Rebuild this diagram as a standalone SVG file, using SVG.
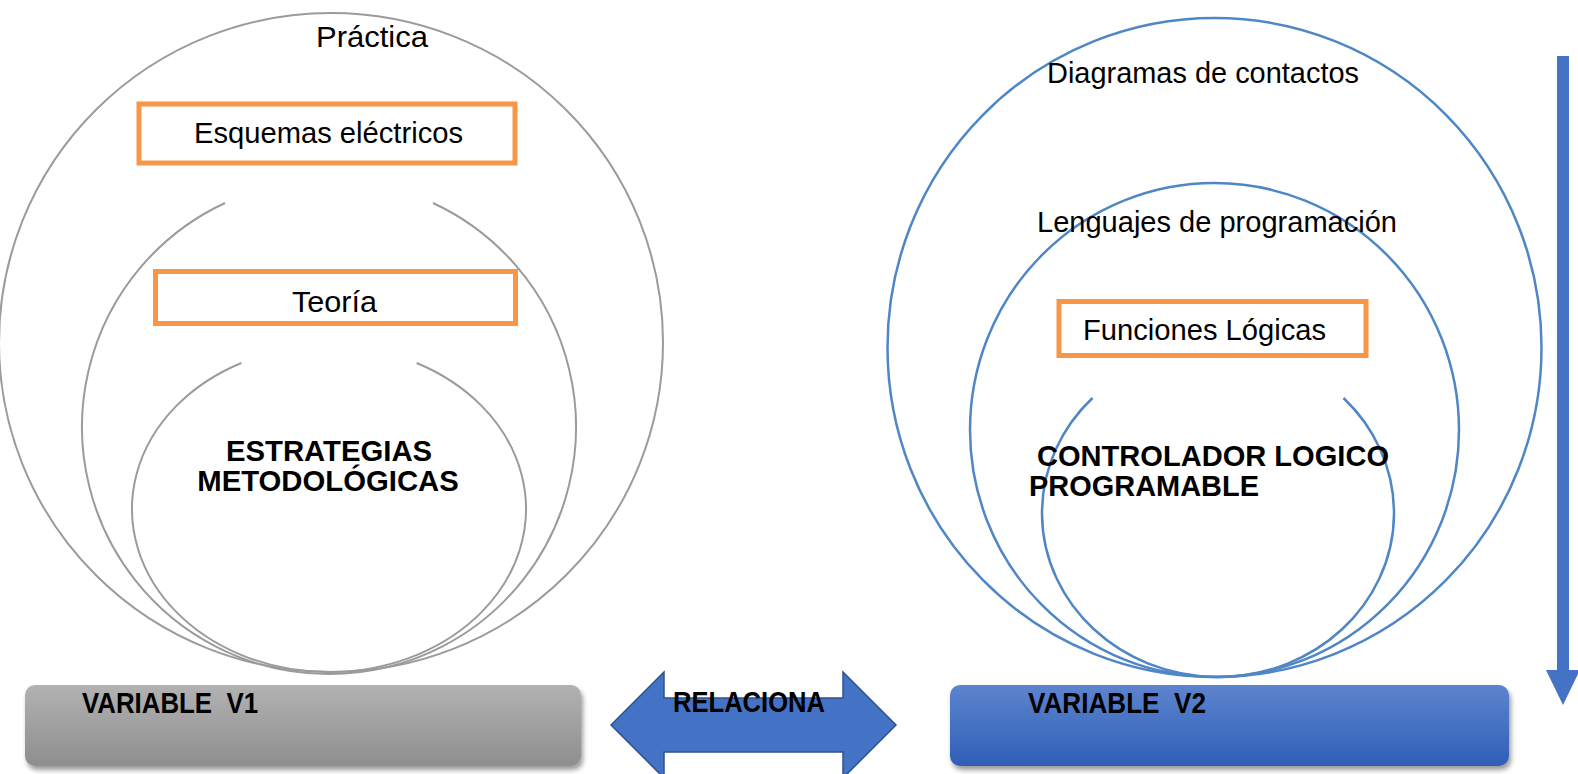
<svg xmlns="http://www.w3.org/2000/svg" width="1578" height="774" viewBox="0 0 1578 774">
  <style>
    .gray { fill: none; stroke: #9b9b9b; stroke-width: 2; }
    .blue { fill: none; stroke: #4f86c6; stroke-width: 2.5; }
    .obox { fill: #ffffff; stroke: #f79646; stroke-width: 5; }
    .t { font-family: "Liberation Sans", Arial, sans-serif; font-size: 29.3px; fill: #000; }
    .tb { font-family: "Liberation Sans", Arial, sans-serif; font-size: 29.3px; font-weight: bold; fill: #000; }
    .vb { font-family: "Liberation Sans", Arial, sans-serif; font-size: 29px; font-weight: bold; fill: #000; }
  </style>
  <defs>
    <linearGradient id="gGray" x1="0" y1="0" x2="0" y2="1">
      <stop offset="0" stop-color="#b2b2b2"/>
      <stop offset="1" stop-color="#8e8e8e"/>
    </linearGradient>
    <linearGradient id="gBlue" x1="0" y1="0" x2="0" y2="1">
      <stop offset="0" stop-color="#5d84cd"/>
      <stop offset="1" stop-color="#2f5fb8"/>
    </linearGradient>
    <filter id="shadow" x="-5%" y="-10%" width="110%" height="130%">
      <feDropShadow dx="2" dy="4" stdDeviation="2.5" flood-color="#000" flood-opacity="0.4"/>
    </filter>
  </defs>
  <rect width="1578" height="774" fill="#ffffff"/>

  <!-- Left side -->
  <g id="practica">
    <ellipse class="gray" cx="331" cy="342.5" rx="332" ry="329.5"/>
    <text class="t" x="316" y="47" textLength="112" lengthAdjust="spacingAndGlyphs">Práctica</text>
  </g>
  <g id="esquemas">
    <rect class="obox" x="139" y="104" width="376" height="59"/>
    <text class="t" x="194" y="143" textLength="269" lengthAdjust="spacingAndGlyphs">Esquemas eléctricos</text>
  </g>
  <g id="teoria-arc">
    <path class="gray" d="M225,203 A247,247 0 1 0 433,203"/>
  </g>
  <g id="teoria">
    <rect class="obox" x="155.5" y="271.5" width="360" height="52"/>
    <text class="t" x="292" y="312" textLength="85" lengthAdjust="spacingAndGlyphs">Teoría</text>
  </g>
  <g id="estrategias">
    <path class="gray" d="M241.4,363 A197,163 0 1 0 416.6,363"/>
    <text class="tb" x="329" y="461" text-anchor="middle">ESTRATEGIAS</text>
    <text class="tb" x="328" y="491" text-anchor="middle">METODOLÓGICAS</text>
  </g>
  <g id="variable-v1">
    <rect x="25" y="685" width="556" height="81" rx="10" fill="url(#gGray)" filter="url(#shadow)"/>
    <text class="vb" x="82" y="713" textLength="176" lengthAdjust="spacingAndGlyphs" xml:space="preserve">VARIABLE  V1</text>
  </g>

  <!-- Right side -->
  <g id="diagramas">
    <ellipse class="blue" cx="1214.5" cy="347.5" rx="327" ry="329.5"/>
    <text class="t" x="1047" y="83" textLength="312" lengthAdjust="spacingAndGlyphs">Diagramas de contactos</text>
  </g>
  <g id="lenguajes">
    <ellipse class="blue" cx="1214.5" cy="430" rx="244.5" ry="247"/>
    <text class="t" x="1037" y="232" textLength="360" lengthAdjust="spacingAndGlyphs">Lenguajes de programación</text>
  </g>
  <g id="funciones">
    <rect class="obox" x="1059" y="301.5" width="307" height="54"/>
    <text class="t" x="1083" y="340" textLength="243" lengthAdjust="spacingAndGlyphs">Funciones Lógicas</text>
  </g>
  <g id="plc">
    <path class="blue" d="M1092.5,398 A176,164 0 1 0 1343.5,398"/>
    <text class="tb" x="1037" y="466" textLength="352" lengthAdjust="spacingAndGlyphs">CONTROLADOR LOGICO</text>
    <text class="tb" x="1029" y="496" textLength="230" lengthAdjust="spacingAndGlyphs">PROGRAMABLE</text>
  </g>
  <g id="variable-v2">
    <rect x="950" y="685" width="559" height="81" rx="10" fill="url(#gBlue)" filter="url(#shadow)"/>
    <text class="vb" x="1028" y="713" textLength="178" lengthAdjust="spacingAndGlyphs" xml:space="preserve">VARIABLE  V2</text>
  </g>

  <!-- Connectors -->
  <g id="connectors">
    <polygon points="611,725 664,672 664,698 843,698 843,672 896,725 843,778 843,752 664,752 664,778" fill="#4472c4" stroke="#2f528f" stroke-width="1.5"/>
    <text class="vb" x="673" y="712" textLength="152" lengthAdjust="spacingAndGlyphs">RELACIONA</text>
    <rect x="1557" y="56" width="12" height="615" fill="#4472c4"/>
    <polygon points="1546,670 1580,670 1563,705" fill="#4472c4"/>
  </g>
</svg>
